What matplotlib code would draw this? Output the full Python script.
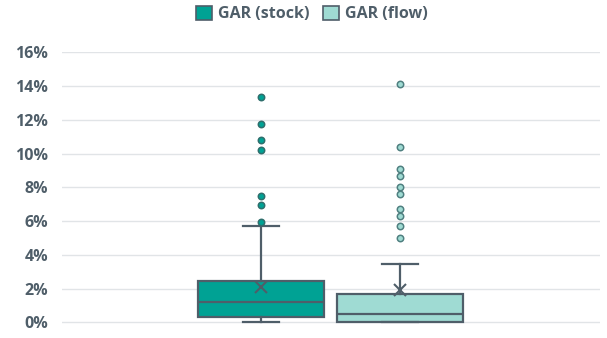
import numpy as np
import matplotlib
matplotlib.use("Agg")
import matplotlib.pyplot as plt
from matplotlib.patches import Patch

plt.rcParams['font.family'] = ['Open Sans', 'DejaVu Sans']

# box statistics (percent)
labels = ['GAR (stock)', 'GAR (flow)']
whislo = [0.0, 0.0]
q1 = [0.30, 0.0]
med = [1.22, 0.49]
q3 = [2.47, 1.68]
whishi = [5.71, 3.47]
means = [2.11, 1.91]
fliers_stock = [13.39, 11.75, 10.80, 10.23, 7.50, 6.97, 5.94]
fliers_flow = [14.12, 10.41, 9.10, 8.67, 8.02, 7.58, 6.73, 6.32, 5.69, 5.00]
yticks = [0, 2, 4, 6, 8, 10, 12, 14, 16]

fills = ['#00a294', '#9fdbd3']
edge = '#4f5e69'
text_col = '#4f5e69'

stats = []
for i, fl in enumerate([fliers_stock, fliers_flow]):
    stats.append(dict(label=labels[i], whislo=whislo[i], q1=q1[i], med=med[i],
                      q3=q3[i], whishi=whishi[i], mean=means[i], fliers=fl))

fig = plt.figure(figsize=(6.07, 3.38), dpi=100)
ax = fig.add_axes([62/607, 0.0314, 538/607, 0.8133])

bp = ax.bxp(stats, positions=[1, 2], widths=0.9, capwidths=0.266,
            patch_artist=True, showmeans=True, showfliers=True,
            boxprops=dict(edgecolor=edge, linewidth=1.6),
            medianprops=dict(color=edge, linewidth=1.6),
            whiskerprops=dict(color=edge, linewidth=1.6),
            capprops=dict(color=edge, linewidth=1.6),
            meanprops=dict(marker='x', markeredgecolor=edge, markersize=8, markeredgewidth=1.5))
for i, b in enumerate(bp['boxes']):
    b.set_facecolor(fills[i])
for i, f in enumerate(bp['fliers']):
    f.set_marker('o')
    f.set_markerfacecolor(fills[i])
    f.set_markeredgecolor('#2f6e6c' if i == 0 else '#4f7f80')
    f.set_markersize(4.6)
    f.set_markeredgewidth(1.1)
for art in bp['boxes'] + bp['whiskers'] + bp['caps'] + bp['medians']:
    art.set_clip_on(False)

ax.set_xlim(-0.4317, 3.4388)
ax.set_ylim(-0.3, 16.0)
ax.set_yticks(yticks)
ax.set_yticklabels([f'{t}%' for t in yticks])
ax.set_xticks([])
ax.tick_params(axis='y', length=0, pad=10, labelsize=11.5, labelcolor=text_col)
for lab in ax.get_yticklabels():
    lab.set_fontweight('bold')
ax.yaxis.grid(True, color='#e1e4e7', linewidth=1)
ax.set_axisbelow(True)
for s in ax.spines.values():
    s.set_visible(False)

handles = [Patch(facecolor=fills[i], edgecolor=edge, linewidth=1.2, label=labels[i]) for i in range(2)]
fig.legend(handles=handles, loc='center', bbox_to_anchor=(312/607, 1 - 14/338), ncol=2,
           frameon=False, handlelength=1.0, handleheight=1.0, handletextpad=0.4,
           columnspacing=0.8, prop=dict(weight='bold', size=11.5), labelcolor=text_col)

fig.savefig('out.png', dpi=100)
